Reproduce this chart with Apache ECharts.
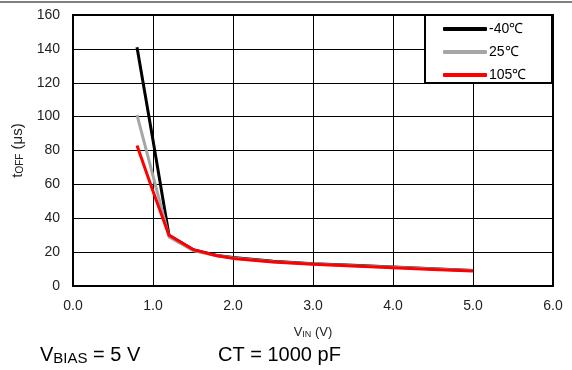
<!DOCTYPE html>
<html><head><meta charset="utf-8">
<script src="https://cdn.jsdelivr.net/npm/echarts@6/dist/echarts.min.js"></script>
<style>html,body{margin:0;padding:0;background:#fff}#c{width:572px;height:370px}</style>
</head><body><div id="c"></div>
<script>
const seriesNames = ['-40℃', '25℃', '105℃'];
const seriesColors = ['#000000', '#a6a6a6', '#ff0000'];
const vin = [0.8, 1.0, 1.2, 1.5, 1.8, 2.0, 2.5, 3.0, 3.5, 4.0, 4.5, 5.0];
const tNeg40 = [141, 86, 30, 21.5, 18, 16.8, 14.6, 13.2, 12.2, 11.2, 10.2, 9.2];
const t25 = [101, 65, 29, 21, 17.8, 16.5, 14.3, 13, 12, 11, 10, 9];
const t105 = [83, 56, 30, 21.5, 17.8, 16.3, 14.2, 12.8, 11.8, 10.8, 9.8, 8.8];
const yTicks = [0, 20, 40, 60, 80, 100, 120, 140, 160];
const xTicks = [0, 1, 2, 3, 4, 5, 6];

const allData = [tNeg40, t25, t105];
const chart = echarts.init(document.getElementById('c'));
const font = 'Liberation Sans, Arial, sans-serif';
chart.setOption({
  animation: false,
  grid: { left: 73, right: 19, top: 15, bottom: 84, show: true, borderColor: '#000', borderWidth: 2, backgroundColor: 'transparent' },
  xAxis: {
    type: 'value', min: xTicks[0], max: xTicks[xTicks.length - 1], interval: 1,
    axisLine: { show: false }, axisTick: { show: false },
    splitLine: { show: true, lineStyle: { color: '#000', width: 1 } },
    axisLabel: { color: '#222', fontSize: 14, fontFamily: font, margin: 13, formatter: v => v.toFixed(1) },
    name: '{a|V}{b|IN}{a| (V)}', nameLocation: 'middle', nameGap: 40,
    nameTextStyle: { rich: { a: { fontSize: 13, fontFamily: font, color: '#222' }, b: { fontSize: 9, fontFamily: font, color: '#222', verticalAlign: 'bottom', padding: [4,0,0,0] } } }
  },
  yAxis: {
    type: 'value', min: yTicks[0], max: yTicks[yTicks.length - 1], interval: 20,
    axisLine: { show: false }, axisTick: { show: false },
    splitLine: { show: true, lineStyle: { color: '#000', width: 1 } },
    axisLabel: { color: '#222', fontSize: 14, fontFamily: font, margin: 13 },
    name: '{a|t}{b|OFF}{a| (μs)}', nameLocation: 'middle', nameGap: 40,
    nameTextStyle: { rich: { a: { fontSize: 15, fontFamily: font, color: '#222' }, b: { fontSize: 10, fontFamily: font, color: '#222', verticalAlign: 'bottom', padding: [6,0,0,0] } } }
  },
  legend: {
    orient: 'vertical', left: 443, top: 22, itemWidth: 44, itemHeight: 4, itemGap: 9,
    icon: 'roundRect', padding: 0,
    textStyle: { fontSize: 14, fontFamily: font, color: '#000', padding: [0,0,0,-3] },
    data: seriesNames
  },
  graphic: [
    { type: 'line', shape: { x1: 0, y1: 2, x2: 572, y2: 2 }, style: { stroke: '#000', lineWidth: 1 }, z: 10 },
    { type: 'rect', shape: { x: 425, y: 15, width: 127, height: 68 }, style: { fill: '#fff', stroke: '#000', lineWidth: 2 }, z: 3 },
    { type: 'text', left: 40, top: 345, z: 10, style: { text: '{a|V}{b|BIAS}{a| = 5 V}', rich: { a: { fontSize: 20, fontFamily: font, fill: '#000' }, b: { fontSize: 15, fontFamily: font, fill: '#000', verticalAlign: 'bottom', padding: [7,0,0,0] } } } },
    { type: 'text', left: 218, top: 345, z: 10, style: { text: 'CT = 1000 pF', fontSize: 20, fontFamily: font, fill: '#000' } }
  ],
  series: seriesNames.map((n, i) => ({
    name: n, type: 'line', showSymbol: false, symbol: 'none', z: 2 + i,
    lineStyle: { color: seriesColors[i], width: 3 }, itemStyle: { color: seriesColors[i] },
    data: vin.map((x, j) => [x, allData[i][j]])
  }))
});
</script></body></html>
